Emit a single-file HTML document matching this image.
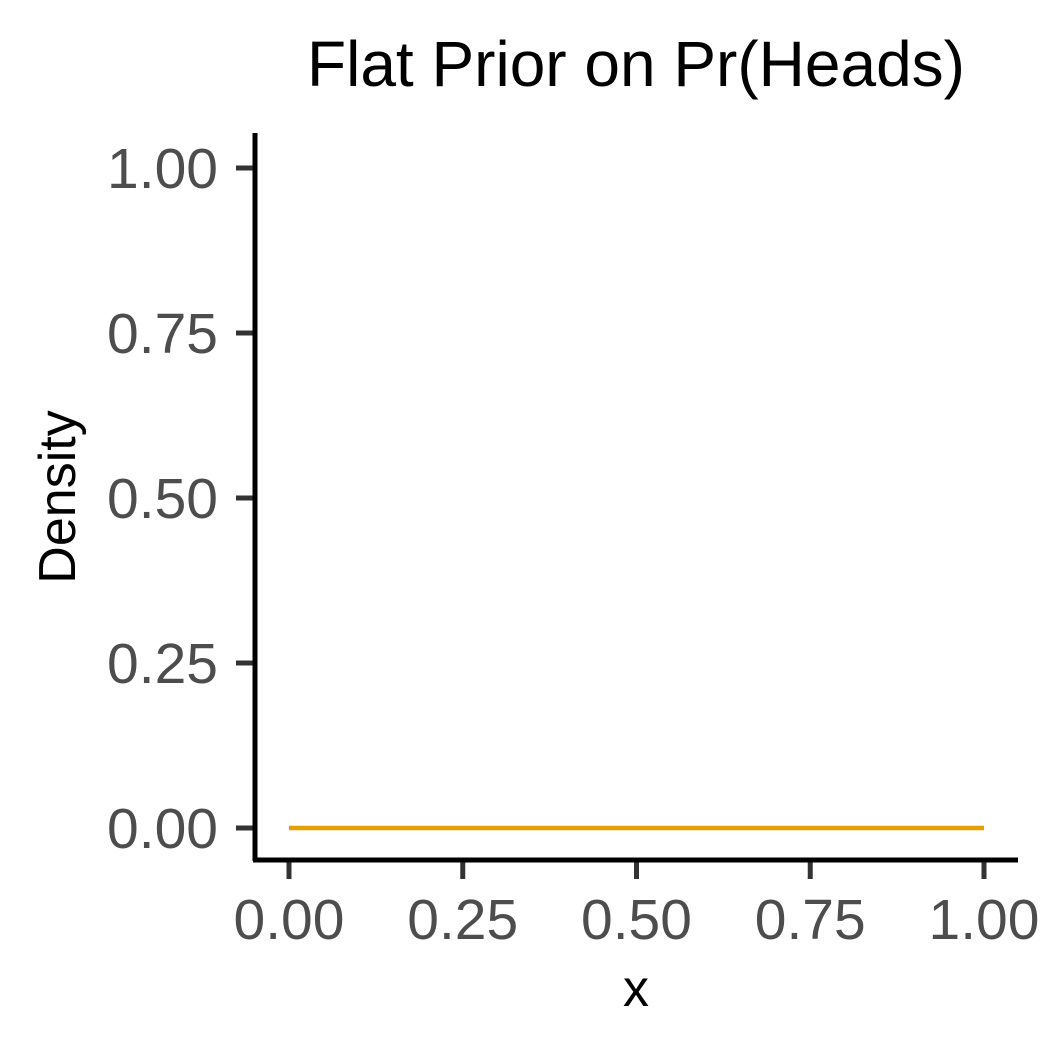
<!DOCTYPE html>
<html><head><meta charset="utf-8"><style>
html,body{margin:0;padding:0;background:#fff;}
svg{display:block;font-family:"Liberation Sans",Arial,sans-serif;}
</style></head><body>
<svg id="chart" width="1056" height="1056" viewBox="0 0 1056 1056">
<rect width="1056" height="1056" fill="#fff"/>
<text x="636" y="86" font-size="64" text-anchor="middle" fill="#000">Flat Prior on Pr(Heads)</text>
<text x="636" y="1006" font-size="52" text-anchor="middle" fill="#000">x</text>
<text transform="translate(75,497) rotate(-90)" font-size="52" text-anchor="middle" fill="#000">Density</text>
<g id="axes"></g>
<g id="marks"></g>
<line x1="255" y1="133" x2="255" y2="861" stroke="#000" stroke-width="5"/>
<line x1="253" y1="860" x2="1018" y2="860" stroke="#000" stroke-width="5"/>
</svg>
<script>
const xTicks=[0,0.25,0.5,0.75,1];
const xTickLabels=["0.00","0.25","0.50","0.75","1.00"];
const yTicks=[0,0.25,0.5,0.75,1];
const yTickLabels=["0.00","0.25","0.50","0.75","1.00"];
const seriesX=[0,1];
const seriesY=[0,0];
const NS="http://www.w3.org/2000/svg";
function sx(v){return 289+v*(984-289);}
function sy(v){return 828-v*(828-168);}
const axes=document.getElementById('axes');
function mk(tag,attrs,parent){const e=document.createElementNS(NS,tag);for(const k in attrs)e.setAttribute(k,attrs[k]);parent.appendChild(e);return e;}
xTicks.forEach((t,i)=>{
  const l=mk('line',{x1:sx(t),x2:sx(t),y1:860,y2:879,stroke:'#333',"stroke-width":5},axes);
  
  
  const tx=mk('text',{x:sx(t),y:939,"font-size":57,"text-anchor":"middle",fill:"#4d4d4d"},axes);
  tx.textContent=xTickLabels[i];
  
  
});
yTicks.forEach((t,i)=>{
  const l=mk('line',{x1:236,x2:255,y1:sy(t),y2:sy(t),stroke:'#333',"stroke-width":5},axes);
  
  
  const tx=mk('text',{x:218,y:sy(t)+20,"font-size":57,"text-anchor":"end",fill:"#4d4d4d"},axes);
  tx.textContent=yTickLabels[i];
  
  
});
const marks=document.getElementById('marks');
const pts=seriesX.map((x,i)=>sx(x)+','+sy(seriesY[i])).join(' ');
const pl=mk('polyline',{points:pts,fill:'none',stroke:'#E69F00',"stroke-width":4.5},marks);


</script>
</body></html>
